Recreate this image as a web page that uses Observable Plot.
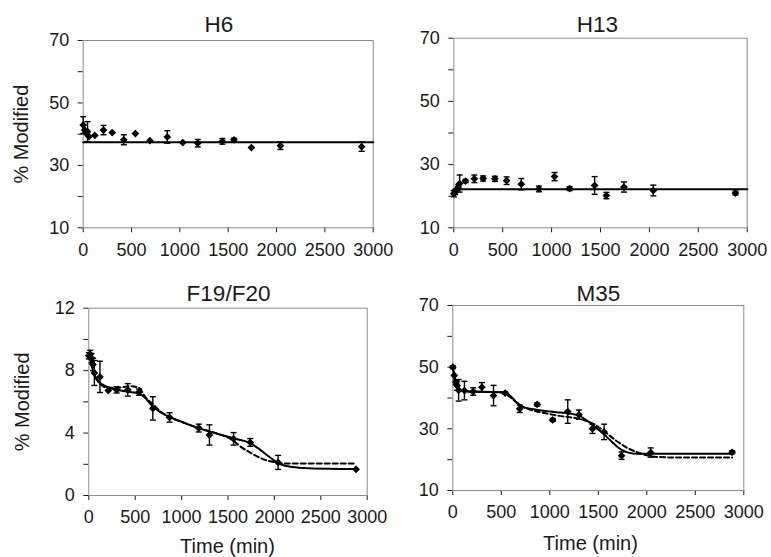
<!DOCTYPE html>
<html>
<head>
<meta charset="utf-8">
<script src="https://cdn.jsdelivr.net/npm/d3@7"></script>
<script src="https://cdn.jsdelivr.net/npm/@observablehq/plot@0.6"></script>
<style>
  body { margin: 0; background: #fff; }
  #chart { position: relative; width: 771px; height: 557px; background: #fff; overflow: hidden; }
  #chart svg { position: absolute; overflow: visible; }
</style>
</head>
<body>
<div id="chart"></div>
<script>
// ---- Data ----
const times = [0, 15, 30, 45, 60, 120, 210, 300, 420, 540, 690, 870, 1030, 1185, 1300, 1440, 1560, 1740, 2040, 2880];

const panelTitles = ["H6", "H13", "F19/F20", "M35"];
const yAxisTitle = "% Modified";
const xAxisTitle = "Time (min)";
const xTicks = [0, 500, 1000, 1500, 2000, 2500, 3000];

const h6Values = [42.9, 41.3, 40.3, 40.8, 39.2, 39.6, 41.3, 40.5, 38.2, 40.2, 37.9, 39.1, 37.3, 37.1, null, 37.7, 38.2, 35.7, 36.3, 36.0];
const h6Errors = [2.7, 0, 0, 3.2, 0, 0, 1.5, 0, 1.6, 0, 0, 2.0, 0, 1.2, 0, 0.9, 0.5, 0, 1.2, 1.5];
const h6FitTimes = [0, 3000];
const h6Fit = [37.4, 37.4];

const h13Values = [20.8, 21.3, 22.1, 22.9, 24.0, 24.8, 25.5, 25.6, 25.5, 24.9, 23.8, 22.3, 26.2, 22.4, null, 23.4, 20.2, 22.9, 21.8, 21.0];
const h13Errors = [1.0, 0.8, 0, 0.8, 2.7, 0.5, 1.2, 0.8, 0.8, 1.2, 1.8, 0.9, 1.3, 0.6, 0, 2.8, 1.0, 1.6, 1.7, 0.6];
const h13FitTimes = [0, 3000];
const h13Fit = [22.2, 22.2];

const f19Values = [8.95, 9.05, 8.8, 8.4, 7.85, 7.6, 6.72, 6.77, 6.77, 6.62, 5.58, 5.0, null, 4.32, 3.88, null, 3.63, 3.4, 2.12, 1.68];
const f19Errors = [0.2, 0.25, 0.3, 0.4, 0.8, 1.0, 0, 0.2, 0.4, 0.2, 0.75, 0.3, 0, 0.25, 0.65, 0, 0.4, 0.25, 0.45, 0];
const f19SolidTimes = [0, 20, 50, 100, 200, 300, 420, 540, 600, 690, 780, 880, 1030, 1190, 1390, 1510, 1600, 1740, 1830, 1940, 2040, 2190, 2370, 2880];
const f19Solid = [9.0, 8.6, 7.9, 7.35, 6.95, 6.78, 6.65, 6.55, 6.3, 5.7, 5.3, 5.0, 4.65, 4.3, 3.95, 3.75, 3.6, 3.35, 3.0, 2.5, 2.07, 1.82, 1.75, 1.7];
const f19DashedTimes = [0, 20, 50, 100, 200, 300, 450, 540, 610, 690, 780, 880, 1030, 1190, 1390, 1550, 1620, 1740, 1870, 2040, 2150, 2880];
const f19Dashed = [9.0, 8.6, 7.9, 7.3, 6.9, 6.9, 7.0, 6.9, 6.3, 5.85, 5.35, 5.0, 4.65, 4.3, 3.95, 3.55, 3.2, 2.75, 2.35, 2.1, 2.05, 2.05];

const m35Values = [50.0, 47.3, 45.1, 44.0, 42.5, 42.4, 42.1, 43.5, 40.8, 41.6, 36.5, 37.9, 32.9, 35.6, 34.6, 30.0, 29.0, 21.3, 22.3, 22.4];
const m35Errors = [0.5, 0, 0.8, 1.5, 3.5, 3.0, 1.2, 1.5, 3.3, 0.4, 1.2, 0.5, 0.5, 3.8, 1.5, 1.5, 2.5, 1.2, 1.5, 0.5];
const m35SolidTimes = [0, 20, 40, 70, 120, 300, 540, 600, 660, 720, 800, 900, 1000, 1100, 1200, 1300, 1380, 1450, 1550, 1650, 1740, 1820, 1900, 2880];
const m35Solid = [49.8, 46.5, 44.2, 42.8, 42.2, 42.0, 41.9, 40.5, 38.5, 37.2, 36.5, 36.0, 35.6, 35.3, 35.0, 34.3, 32.8, 31.0, 28.5, 25.5, 23.2, 22.2, 21.9, 21.9];
const m35DashedTimes = [0, 20, 40, 70, 120, 300, 500, 560, 620, 700, 800, 900, 1000, 1100, 1200, 1300, 1400, 1500, 1600, 1700, 1800, 1900, 2000, 2100, 2300, 2880];
const m35Dashed = [49.8, 46.5, 44.2, 42.8, 42.2, 42.0, 41.8, 41.0, 39.5, 37.5, 36.2, 35.4, 34.8, 34.2, 33.8, 33.3, 32.3, 30.6, 28.2, 25.8, 23.8, 22.4, 21.4, 20.9, 20.7, 20.7];

// ---- helpers ----
function pointsOf(values, errors) {
  return times.map((t, i) => ({t, v: values[i], e: errors[i]})).filter(d => d.v != null);
}
function curveOf(ts, vs) { return ts.map((t, i) => ({t, v: vs[i]})); }

const capSymbol = {
  draw(context, size) {
    const r = Math.sqrt(size / Math.PI);
    context.moveTo(-r, 0);
    context.lineTo(r, 0);
  }
};

const font = "'Liberation Sans', Arial, Helvetica, sans-serif";
const ink = "#1a1a1a";

function panel(cfg) {
  const pts = pointsOf(cfg.values, cfg.errors);
  const errs = pts.filter(d => d.e > 0);
  const marks = [
    Plot.frame({stroke: "#8a8a8a", strokeWidth: 1}),
  ];
  if (cfg.dashed) {
    marks.push(Plot.line(cfg.dashed, {x: "t", y: "v", stroke: "#000", strokeWidth: 2, strokeDasharray: "5,3", curve: "monotone-x"}));
  }
  marks.push(Plot.line(cfg.solid, {x: "t", y: "v", stroke: "#000", strokeWidth: 2, curve: "monotone-x"}));
  marks.push(Plot.ruleX(errs, {x: "t", y1: d => d.v - d.e, y2: d => d.v + d.e, stroke: "#000", strokeWidth: 1.4}));
  marks.push(Plot.dot(errs, {x: "t", y: d => d.v - d.e, symbol: capSymbol, r: 3, stroke: "#000", strokeWidth: 1.4, fill: "none"}));
  marks.push(Plot.dot(errs, {x: "t", y: d => d.v + d.e, symbol: capSymbol, r: 3, stroke: "#000", strokeWidth: 1.4, fill: "none"}));
  marks.push(Plot.dot(pts, {x: "t", y: "v", symbol: "diamond2", r: 3.5, fill: "#000", stroke: "none"}));
  marks.push(Plot.text([cfg.title], {frameAnchor: "top", text: d => d, dx: cfg.titleDx, dy: cfg.titleDy, fontSize: 22.5, lineAnchor: "middle", fill: ink}));
  if (cfg.yLabelDx != null) {
    marks.push(Plot.text([yAxisTitle], {frameAnchor: "left", text: d => d, rotate: -90, dx: cfg.yLabelDx, fontSize: 20, textAnchor: "middle", lineAnchor: "middle", fill: ink}));
  }
  if (cfg.xLabelDy != null) {
    marks.push(Plot.text([xAxisTitle], {frameAnchor: "bottom", text: d => d, dx: cfg.xLabelDx, dy: cfg.xLabelDy, fontSize: 20, lineAnchor: "middle", fill: ink}));
  }
  const svg = Plot.plot({
    width: cfg.width, height: cfg.height,
    marginLeft: cfg.ml, marginRight: cfg.mr, marginTop: cfg.mt, marginBottom: cfg.mb,
    style: {fontFamily: font, fontSize: "18px", color: ink, background: "transparent", overflow: "visible"},
    x: {domain: [0, 3000], ticks: xTicks, tickSize: 5, tickPadding: 10, label: null, tickFormat: d => String(d)},
    y: {domain: cfg.yDomain, ticks: cfg.yTicks, tickSize: 5, tickPadding: 9, label: null,
        tickFormat: d => cfg.yLabeled.includes(d) ? String(d) : ""},
    marks
  });
  svg.style.left = cfg.left + "px";
  svg.style.top = cfg.top + "px";
  document.getElementById("chart").appendChild(svg);
}

panel({
  title: panelTitles[0], values: h6Values, errors: h6Errors,
  solid: curveOf(h6FitTimes, h6Fit),
  left: 0, top: 0, width: 400, height: 265, ml: 82.7, mr: 27.3, mt: 40, mb: 37.7,
  yDomain: [10, 70], yTicks: [10, 20, 30, 40, 50, 60, 70], yLabeled: [10, 30, 50, 70],
  titleDx: -9.4, titleDy: -16, yLabelDx: -61.7
});
panel({
  title: panelTitles[1], values: h13Values, errors: h13Errors,
  solid: curveOf(h13FitTimes, h13Fit),
  left: 390, top: 0, width: 381, height: 265, ml: 63.3, mr: 24.3, mt: 37.7, mb: 37.7,
  yDomain: [10, 70], yTicks: [10, 20, 30, 40, 50, 60, 70], yLabeled: [10, 30, 50, 70],
  titleDx: -3, titleDy: -13.7
});
panel({
  title: panelTitles[2], values: f19Values, errors: f19Errors,
  solid: curveOf(f19SolidTimes, f19Solid), dashed: curveOf(f19DashedTimes, f19Dashed),
  left: 0, top: 265, width: 400, height: 292, ml: 88.3, mr: 33.3, mt: 42.7, mb: 62,
  yDomain: [0, 12], yTicks: [0, 2, 4, 6, 8, 10, 12], yLabeled: [0, 4, 8, 12],
  titleDx: 0.5, titleDy: -14.7, yLabelDx: -66.6, xLabelDx: -0.5, xLabelDy: 51
});
panel({
  title: panelTitles[3], values: m35Values, errors: m35Errors,
  solid: curveOf(m35SolidTimes, m35Solid), dashed: curveOf(m35DashedTimes, m35Dashed),
  left: 390, top: 265, width: 381, height: 292, ml: 62.3, mr: 27.7, mt: 40, mb: 67,
  yDomain: [10, 70], yTicks: [10, 20, 30, 40, 50, 60, 70], yLabeled: [10, 30, 50, 70],
  titleDx: 0.2, titleDy: -12, xLabelDx: -7.8, xLabelDy: 53
});
</script>
</body>
</html>
